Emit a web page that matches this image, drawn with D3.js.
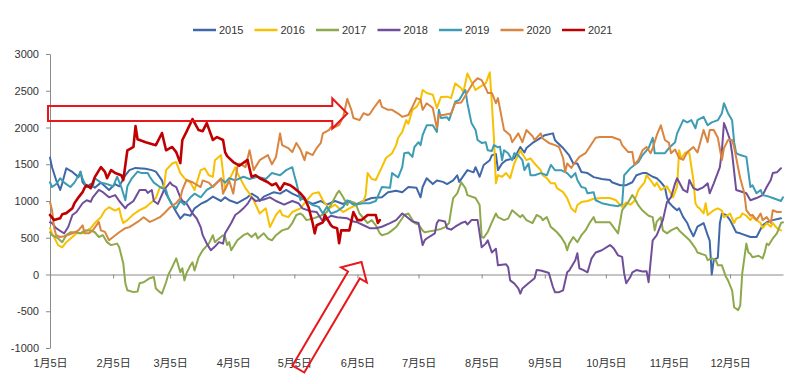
<!DOCTYPE html>
<html><head><meta charset="utf-8">
<script src="https://cdn.jsdelivr.net/npm/d3@7"></script>
<style>
body{margin:0;background:#fff}
svg{display:block}
text{font-family:"Liberation Sans","Noto Sans CJK SC",Arial,sans-serif;}
</style>
</head><body><svg id="c" width="793" height="384"></svg>
<script>
const seriesNames = ["2015","2016","2017","2018","2019","2020","2021"];
const seriesColors = ["#4068a8","#f7c000","#8ea94c","#6f4f9a","#3d9cb4","#d98540","#c00000"];
const yTicks = [-1000,-500,0,500,1000,1500,2000,2500,3000];
const xTickDates = ["01-05","02-05","03-05","04-05","05-05","06-05","07-05","08-05","09-05","10-05","11-05","12-05"];
const xTickLabels = ["1月5日","2月5日","3月5日","4月5日","5月5日","6月5日","7月5日","8月5日","9月5日","10月5日","11月5日","12月5日"];

const s2015 = [["01-05",1590],["01-06",1460],["01-08",1285],["01-10",1150],["01-11",1240],["01-13",1445],["01-16",1395],["01-19",1325],["01-20",1400],["01-21",1255],["01-23",1190],["01-25",1230],["01-27",1180],["01-30",1250],["02-01",1200],["02-03",1150],["02-06",1230],["02-08",1200],["02-11",1350],["02-13",1420],["02-16",1450],["02-21",1440],["02-24",1420],["02-26",1400],["03-01",1280],["03-03",1100],["03-06",950],["03-08",850],["03-10",760],["03-12",820],["03-15",800],["03-17",900],["03-20",960],["03-23",1000],["03-26",1060],["03-30",1000],["04-01",1050],["04-03",1010],["04-07",970],["04-12",1050],["04-14",1100],["04-17",1050],["04-18",1000],["04-20",1060],["04-25",1120],["04-28",1100],["05-01",1150],["05-04",1100],["05-08",1050],["05-11",1000],["05-14",960],["05-18",1000],["05-21",950],["05-25",1000],["05-29",960],["06-01",1000],["06-04",950],["06-08",1000],["06-12",1040],["06-17",1050],["06-20",1120],["06-24",1140],["06-27",1120],["06-30",1190],["07-04",1180],["07-06",1050],["07-07",1190],["07-09",1310],["07-12",1230],["07-14",1280],["07-17",1260],["07-19",1230],["07-22",1280],["07-24",1350],["07-25",1260],["07-29",1420],["08-01",1390],["08-02",1460],["08-04",1330],["08-06",1490],["08-09",1555],["08-10",1620],["08-12",1640],["08-13",1420],["08-15",1510],["08-17",1555],["08-21",1580],["08-24",1735],["08-26",1660],["08-27",1720],["08-30",1790],["09-03",1860],["09-05",1895],["09-09",1920],["09-10",1830],["09-11",1800],["09-14",1720],["09-17",1620],["09-19",1510],["09-21",1510],["09-23",1395],["09-26",1380],["09-29",1325],["10-03",1300],["10-07",1285],["10-08",1255],["10-12",1215],["10-15",1215],["10-18",1255],["10-20",1350],["10-23",1380],["10-25",1380],["10-28",1330],["10-30",1310],["11-01",1255],["11-03",1190],["11-04",1050],["11-05",980],["11-07",920],["11-09",875],["11-10",900],["11-12",780],["11-14",700],["11-15",630],["11-17",520],["11-19",650],["11-22",700],["11-24",535],["11-25",460],["11-26",0],["11-27",200],["11-29",230],["11-30",700],["12-01",830],["12-03",810],["12-05",740],["12-08",575],["12-10",560],["12-15",510],["12-18",510],["12-21",670],["12-23",710],["12-26",740],["12-30",765]];

const s2016 = [["01-05",630],["01-06",560],["01-09",400],["01-11",370],["01-13",440],["01-16",510],["01-18",560],["01-21",560],["01-25",630],["01-27",700],["01-30",780],["02-01",875],["02-03",915],["02-06",870],["02-08",900],["02-09",780],["02-10",700],["02-12",740],["02-15",820],["02-18",875],["02-21",915],["02-24",985],["02-26",1040],["02-28",1190],["03-02",1190],["03-03",1420],["03-06",1510],["03-08",1530],["03-10",1380],["03-12",1310],["03-15",1250],["03-17",1150],["03-20",1420],["03-22",1445],["03-24",1350],["03-26",1330],["03-27",1555],["03-30",1625],["03-31",1380],["04-01",1150],["04-03",1285],["04-05",1400],["04-06",1460],["04-07",1380],["04-11",1175],["04-13",1100],["04-15",1010],["04-18",830],["04-21",900],["04-23",645],["04-26",810],["04-28",875],["04-29",810],["05-02",780],["05-04",850],["05-08",900],["05-10",970],["05-14",1100],["05-17",1120],["05-19",1010],["05-22",900],["05-25",950],["05-29",850],["06-01",900],["06-05",950],["06-08",1000],["06-09",1080],["06-10",1380],["06-12",1300],["06-14",1285],["06-17",1460],["06-19",1585],["06-22",1650],["06-24",1760],["06-25",1860],["06-27",1940],["06-29",2100],["06-30",2050],["07-02",2240],["07-04",2280],["07-06",2375],["07-07",2510],["07-09",2470],["07-12",2445],["07-14",2265],["07-16",2415],["07-19",2420],["07-21",2400],["07-23",2600],["07-26",2535],["07-27",2480],["07-29",2735],["07-31",2620],["08-02",2510],["08-04",2550],["08-07",2600],["08-09",2750],["08-10",2330],["08-11",1870],["08-12",1240],["08-13",1350],["08-15",1330],["08-17",1380],["08-19",1310],["08-21",1510],["08-24",1690],["08-25",1640],["08-27",1555],["08-29",1580],["08-31",1510],["09-03",1420],["09-04",1350],["09-06",1310],["09-08",1240],["09-10",1240],["09-11",1175],["09-14",1120],["09-16",1040],["09-18",900],["09-20",850],["09-21",945],["09-23",985],["09-26",1000],["09-29",1030],["10-03",1040],["10-07",1040],["10-10",1010],["10-12",945],["10-13",920],["10-15",980],["10-17",950],["10-19",1000],["10-21",1150],["10-24",1255],["10-25",1350],["10-27",1280],["10-29",1200],["10-30",1250],["11-01",1150],["11-04",1200],["11-05",1150],["11-07",1050],["11-09",1200],["11-10",1690],["11-11",1580],["11-13",1660],["11-15",1650],["11-17",1285],["11-18",970],["11-19",920],["11-20",900],["11-22",830],["11-23",970],["11-24",810],["11-27",875],["11-29",900],["12-01",870],["12-02",780],["12-04",810],["12-05",830],["12-07",700],["12-08",760],["12-10",780],["12-11",830],["12-13",800],["12-15",740],["12-16",780],["12-18",740],["12-20",700],["12-21",630],["12-23",700],["12-25",650],["12-26",700],["12-28",630],["12-30",600]];

const s2017 = [["01-05",575],["01-06",535],["01-09",490],["01-11",440],["01-13",535],["01-15",575],["01-17",575],["01-20",560],["01-22",600],["01-25",600],["01-27",575],["01-29",510],["01-31",535],["02-02",440],["02-04",400],["02-07",420],["02-08",370],["02-10",150],["02-11",-120],["02-12",-215],["02-15",-240],["02-17",-230],["02-18",-120],["02-20",-105],["02-23",-50],["02-25",-35],["02-26",-190],["02-28",-240],["03-01",-260],["03-03",-105],["03-04",-10],["03-06",100],["03-08",220],["03-10",30],["03-11",85],["03-12",-80],["03-13",15],["03-15",125],["03-16",165],["03-17",55],["03-19",235],["03-21",330],["03-24",420],["03-26",535],["03-27",440],["03-28",465],["03-31",535],["04-01",510],["04-02",400],["04-03",440],["04-04",330],["04-07",465],["04-10",535],["04-12",560],["04-14",510],["04-16",560],["04-17",490],["04-20",560],["04-22",490],["04-24",465],["04-26",535],["04-29",600],["05-02",625],["05-04",700],["05-06",810],["05-08",830],["05-09",810],["05-11",740],["05-14",760],["05-18",800],["05-21",850],["05-24",1000],["05-26",1105],["05-27",1140],["05-29",1050],["05-31",945],["06-01",1000],["06-04",970],["06-06",830],["06-10",700],["06-12",740],["06-14",670],["06-16",560],["06-17",535],["06-20",560],["06-22",600],["06-24",645],["06-27",765],["06-28",810],["06-30",830],["07-03",700],["07-05",680],["07-07",600],["07-08",575],["07-11",590],["07-13",600],["07-16",620],["07-18",645],["07-20",700],["07-21",875],["07-22",1040],["07-24",1105],["07-26",1255],["07-28",1175],["07-29",1080],["08-02",1040],["08-04",945],["08-05",510],["08-06",500],["08-08",580],["08-10",710],["08-12",830],["08-13",780],["08-16",740],["08-18",760],["08-20",875],["08-21",850],["08-24",780],["08-25",810],["08-27",740],["08-30",700],["09-01",810],["09-03",780],["09-04",740],["09-06",780],["09-08",645],["09-10",600],["09-11",575],["09-13",510],["09-15",420],["09-16",330],["09-17",420],["09-19",510],["09-21",440],["09-23",535],["09-25",600],["09-27",700],["09-29",780],["09-30",710],["10-03",710],["10-07",710],["10-11",560],["10-13",875],["10-16",985],["10-18",1080],["10-19",1040],["10-21",940],["10-23",870],["10-26",800],["10-28",780],["10-29",600],["10-30",720],["11-01",780],["11-02",600],["11-04",560],["11-06",600],["11-09",640],["11-10",600],["11-15",470],["11-18",355],["11-19",300],["11-23",260],["11-24",195],["11-26",220],["11-28",195],["11-29",125],["12-01",125],["12-03",-35],["12-04",-80],["12-06",-215],["12-07",-445],["12-09",-485],["12-10",-420],["12-11",20],["12-13",420],["12-14",300],["12-15",280],["12-16",235],["12-19",255],["12-21",220],["12-22",300],["12-23",420],["12-24",400],["12-26",490],["12-28",560],["12-30",700],["12-31",710]];

const s2018 = [["01-05",710],["01-06",700],["01-08",630],["01-11",575],["01-12",560],["01-14",650],["01-16",810],["01-18",850],["01-21",970],["01-23",1010],["01-25",990],["01-26",1050],["01-29",1150],["01-31",1120],["02-03",1050],["02-06",1080],["02-08",1000],["02-11",900],["02-12",940],["02-15",1000],["02-18",1150],["02-21",1150],["02-22",1110],["02-24",1150],["02-25",1000],["02-27",960],["03-02",1150],["03-05",1255],["03-06",1220],["03-08",1190],["03-10",1050],["03-11",1000],["03-13",970],["03-16",830],["03-18",765],["03-20",645],["03-21",535],["03-23",420],["03-25",330],["03-27",380],["03-29",440],["03-31",420],["04-01",560],["04-04",700],["04-06",810],["04-08",850],["04-10",900],["04-12",960],["04-14",1050],["04-16",1000],["04-20",1020],["04-23",1050],["04-26",1000],["04-30",950],["05-04",1000],["05-07",970],["05-09",900],["05-13",860],["05-16",850],["05-19",720],["05-23",800],["05-26",780],["05-31",765],["06-03",720],["06-05",710],["06-08",670],["06-11",630],["06-14",630],["06-17",650],["06-21",700],["06-24",740],["06-27",830],["06-29",790],["07-02",720],["07-05",700],["07-07",400],["07-08",465],["07-09",490],["07-13",560],["07-14",700],["07-15",740],["07-18",720],["07-19",630],["07-21",610],["07-23",650],["07-26",700],["07-28",720],["07-29",680],["07-31",740],["08-03",740],["08-04",560],["08-05",370],["08-07",420],["08-08",465],["08-10",300],["08-12",350],["08-13",125],["08-17",140],["08-18",100],["08-19",-80],["08-21",-120],["08-23",-190],["08-24",-260],["08-25",-190],["08-28",-120],["08-31",-50],["09-01",60],["09-03",55],["09-06",30],["09-07",20],["09-09",-170],["09-10",-240],["09-12",-240],["09-14",-215],["09-16",30],["09-17",55],["09-20",195],["09-21",290],["09-22",85],["09-24",60],["09-26",30],["09-28",220],["09-30",300],["10-03",330],["10-07",400],["10-08",380],["10-09",350],["10-11",260],["10-13",240],["10-14",15],["10-15",-120],["10-17",-35],["10-18",30],["10-20",60],["10-23",40],["10-25",45],["10-26",-105],["10-28",465],["10-30",535],["11-02",740],["11-04",985],["11-06",1050],["11-08",1240],["11-09",1310],["11-12",1150],["11-14",1120],["11-15",1285],["11-17",1175],["11-19",1150],["11-22",1190],["11-24",1240],["11-25",1105],["11-27",1240],["11-30",1460],["12-01",1690],["12-02",2060],["12-03",1990],["12-05",1830],["12-06",1650],["12-08",1150],["12-13",1105],["12-15",1010],["12-18",1040],["12-21",1080],["12-23",1190],["12-25",1285],["12-26",1380],["12-28",1390],["12-30",1445]];

const s2019 = [["01-05",1255],["01-06",1190],["01-08",1230],["01-10",1310],["01-12",1250],["01-15",1190],["01-17",1250],["01-20",1395],["01-21",1300],["01-23",1190],["01-26",1190],["01-27",1310],["01-30",1250],["02-02",1230],["02-05",1200],["02-07",1330],["02-09",1190],["02-11",1010],["02-12",1200],["02-14",1300],["02-17",1400],["02-19",1380],["02-22",1380],["02-23",1330],["02-25",1250],["02-28",1190],["03-03",1150],["03-04",1050],["03-06",945],["03-08",900],["03-10",1000],["03-12",950],["03-15",1050],["03-17",1100],["03-20",1050],["03-23",1150],["03-26",1200],["03-30",1300],["04-01",1250],["04-03",1310],["04-06",1280],["04-10",1330],["04-13",1300],["04-17",1330],["04-21",1300],["04-24",1380],["04-28",1350],["05-01",1420],["05-04",1460],["05-05",1350],["05-06",1250],["05-08",1010],["05-09",1050],["05-11",1000],["05-14",945],["05-17",920],["05-19",830],["05-21",920],["05-23",830],["05-26",860],["05-29",920],["05-31",1010],["06-03",950],["06-08",970],["06-11",970],["06-14",1000],["06-17",1190],["06-21",1180],["06-22",1380],["06-25",1320],["06-27",1460],["06-28",1650],["06-30",1660],["07-02",1600],["07-03",1735],["07-05",1800],["07-06",1760],["07-07",1895],["07-09",2030],["07-12",2030],["07-14",1940],["07-15",2240],["07-16",2130],["07-19",2140],["07-20",2100],["07-23",2350],["07-25",2375],["07-27",2470],["07-28",2510],["07-29",2330],["07-31",2060],["08-02",1965],["08-03",1830],["08-05",1790],["08-07",1800],["08-08",1690],["08-10",1680],["08-11",1760],["08-13",1730],["08-14",1740],["08-15",1555],["08-16",1690],["08-18",1650],["08-20",1555],["08-21",1650],["08-23",1620],["08-25",1555],["08-26",1420],["08-28",1510],["08-29",1350],["08-31",1350],["09-03",1380],["09-06",1350],["09-08",1490],["09-10",1420],["09-13",1420],["09-16",1380],["09-18",1320],["09-20",1380],["09-21",1285],["09-23",1190],["09-25",1175],["09-26",1105],["09-29",1120],["09-30",1010],["10-03",970],["10-07",945],["10-11",930],["10-13",960],["10-14",1350],["10-17",1445],["10-21",1530],["10-23",1625],["10-26",1720],["10-28",1860],["10-29",1650],["11-01",1650],["11-03",1650],["11-05",1720],["11-08",1800],["11-09",1920],["11-12",2100],["11-14",2070],["11-16",2100],["11-18",1990],["11-19",2100],["11-22",2145],["11-24",2030],["11-26",2070],["11-29",2100],["12-01",2195],["12-02",2330],["12-04",2195],["12-06",2100],["12-07",1800],["12-08",1650],["12-10",1625],["12-13",1600],["12-15",1190],["12-16",1215],["12-18",1105],["12-20",1150],["12-21",1080],["12-24",1060],["12-26",1040],["12-30",1000],["12-31",1050]];

const s2020 = [["01-05",985],["01-06",875],["01-07",640],["01-08",535],["01-10",510],["01-12",520],["01-16",560],["01-19",600],["01-21",670],["01-22",560],["01-24",560],["01-26",600],["01-29",715],["01-30",600],["02-01",580],["02-03",465],["02-05",510],["02-08",575],["02-11",630],["02-13",645],["02-17",715],["02-20",780],["02-23",715],["02-25",740],["02-28",780],["03-02",830],["03-05",915],["03-08",970],["03-10",1040],["03-11",1150],["03-13",1285],["03-16",1255],["03-20",1190],["03-21",1280],["03-24",1250],["03-26",1190],["03-30",1310],["03-31",1100],["04-03",1280],["04-05",1100],["04-07",1460],["04-08",1510],["04-11",1460],["04-13",1690],["04-15",1420],["04-18",1555],["04-22",1625],["04-24",1500],["04-26",1600],["04-28",1920],["04-29",1760],["05-02",1720],["05-04",1665],["05-06",1790],["05-08",1700],["05-10",1555],["05-11",1665],["05-14",1625],["05-16",1720],["05-18",1790],["05-19",1920],["05-22",1965],["05-23",2005],["05-24",1990],["05-27",2035],["05-29",2145],["05-30",2265],["05-31",2390],["06-02",2240],["06-03",2130],["06-06",2100],["06-08",2195],["06-10",2170],["06-11",2180],["06-13",2265],["06-16",2375],["06-17",2280],["06-20",2240],["06-22",2240],["06-25",2190],["06-27",2145],["06-30",2170],["07-02",2280],["07-04",2400],["07-06",2380],["07-07",2240],["07-09",2330],["07-12",2265],["07-14",1990],["07-15",2170],["07-17",2170],["07-21",2190],["07-23",2330],["07-26",2340],["07-29",2480],["08-01",2615],["08-03",2670],["08-05",2645],["08-07",2535],["08-08",2470],["08-10",2470],["08-12",2330],["08-13",2400],["08-16",1965],["08-19",1895],["08-20",1800],["08-23",1920],["08-25",1800],["08-27",1965],["08-30",1880],["08-31",1830],["09-03",1920],["09-04",1850],["09-07",1790],["09-10",1760],["09-12",1735],["09-14",1585],["09-15",1395],["09-16",1510],["09-18",1450],["09-20",1530],["09-22",1600],["09-25",1650],["09-27",1735],["09-30",1860],["10-02",1870],["10-08",1870],["10-12",1830],["10-13",1760],["10-16",1665],["10-18",1665],["10-19",1490],["10-21",1560],["10-23",1690],["10-25",1735],["10-27",1650],["10-28",1720],["10-30",1895],["11-01",2030],["11-03",1830],["11-05",1790],["11-06",1650],["11-08",1700],["11-10",1585],["11-12",1560],["11-14",1665],["11-17",1735],["11-19",1660],["11-22",1965],["11-24",1800],["11-25",1965],["11-27",1965],["11-29",1860],["12-01",1555],["12-02",1720],["12-04",1830],["12-06",1830],["12-07",1735],["12-09",1445],["12-10",1310],["12-12",1105],["12-13",875],["12-15",800],["12-16",810],["12-18",740],["12-20",830],["12-21",740],["12-23",780],["12-25",700],["12-26",875],["12-28",850],["12-30",850]];

const s2021 = [["01-05",810],["01-07",740],["01-10",765],["01-11",820],["01-13",835],["01-16",900],["01-17",970],["01-19",1050],["01-21",1120],["01-22",1180],["01-23",1215],["01-25",1175],["01-27",1325],["01-30",1460],["02-01",1395],["02-02",1310],["02-04",1420],["02-06",1380],["02-09",1350],["02-10",1285],["02-12",1690],["02-14",1720],["02-15",1735],["02-16",2020],["02-17",1840],["02-21",1800],["02-26",1760],["03-01",1925],["03-03",1690],["03-06",1735],["03-08",1665],["03-10",1515],["03-11",1830],["03-13",1940],["03-16",2115],["03-19",1965],["03-21",1950],["03-23",2060],["03-26",1830],["03-28",1870],["03-31",1830],["04-01",1665],["04-02",1610],["04-05",1530],["04-08",1480],["04-12",1560],["04-13",1440],["04-14",1330],["04-16",1350],["04-18",1310],["04-22",1255],["04-24",1215],["04-26",1240],["04-28",1150],["04-30",1240],["05-03",1215],["05-05",1175],["05-08",1105],["05-10",1040],["05-12",915],["05-14",700],["05-15",560],["05-16",670],["05-19",710],["05-20",810],["05-23",670],["05-24",645],["05-26",630],["05-27",425],["05-28",600],["06-01",600],["06-03",850],["06-05",740],["06-07",740],["06-10",810],["06-14",810],["06-15",700],["06-16",740]];

const seriesData = [s2015,s2016,s2017,s2018,s2019,s2020,s2021];

// annotation arrows anchored in data space: [date, value]
const arrowFrom = [["01-04",2190],["05-07",-1286]];
const arrowTo   = [["05-31",2190],["06-07",170]];

const parse = d3.timeParse("%m-%d");
const svg = d3.select("#c");
const x = d3.scaleTime().domain([parse("01-05"), parse("12-31")]).range([50, 783]);
const y = d3.scaleLinear().domain([-1000, 3000]).range([348, 54]);
const axisColor = "#8a8a8a", textColor = "#333";

// Y axis
const gy = svg.append("g").attr("transform","translate(50,0)")
  .call(d3.axisLeft(y).tickValues(yTicks).tickFormat(d=>String(d)).tickSize(4).tickSizeOuter(0).tickPadding(7));
// X axis at zero line
const gx = svg.append("g").attr("transform",`translate(0,${y(0)})`)
  .call(d3.axisBottom(x).tickValues(xTickDates.map(parse)).tickFormat((d,i)=>xTickLabels[i]).tickSize(4).tickSizeOuter(0));
gx.selectAll("text").attr("y", y(-1000)-y(0)+11).attr("dy","0.71em");
[gy,gx].forEach(g=>{
  g.select(".domain").attr("stroke",axisColor).attr("stroke-width",1);
  g.selectAll(".tick line").attr("stroke",axisColor);
  g.selectAll("text").attr("fill",textColor).style("font-size","11px");
});

// Lines
const lineWidths = [2,2,2,2,2,2,2.6];
const line = d3.line().x(d=>x(parse(d[0]))).y(d=>y(d[1]));
seriesData.forEach((data,i)=>{
  svg.append("path").datum(data).attr("d",line)
    .attr("fill","none").attr("stroke",seriesColors[i])
    .attr("stroke-width",lineWidths[i]).attr("stroke-linejoin","round").attr("stroke-linecap","round");
});

// Legend
const lg = svg.append("g");
seriesNames.forEach((n,i)=>{
  const g = lg.append("g").attr("transform",`translate(${193+i*61.5},30)`);
  g.append("line").attr("x1",0).attr("x2",23).attr("y1",0).attr("y2",0)
    .attr("stroke",seriesColors[i]).attr("stroke-width",2.5);
  g.append("text").attr("x",26).attr("y",0).attr("dy","0.35em")
    .attr("fill",textColor).style("font-size","11px").text(n);
});

// Arrows (outlined block arrows)
function arrowPath(x0,y0,x1,y1,w,hw,hl){
  const dx=x1-x0, dy=y1-y0, L=Math.hypot(dx,dy);
  const ux=dx/L, uy=dy/L, nx=-uy, ny=ux;
  const P=(a,b)=>[x0+a*ux+b*nx, y0+a*uy+b*ny];
  const pts=[P(0,-w),P(L-hl,-w),P(L-hl,-hw),P(L,0),P(L-hl,hw),P(L-hl,w),P(0,w)];
  return "M"+pts.map(p=>p[0].toFixed(1)+","+p[1].toFixed(1)).join("L")+"Z";
}
const arrowW = [7.5, 6.8];
arrowFrom.forEach((f,i)=>{
  const t = arrowTo[i];
  svg.append("path")
    .attr("d", arrowPath(x(parse(f[0])), y(f[1]), x(parse(t[0])), y(t[1]), arrowW[i], 15, 15))
    .attr("fill","none").attr("stroke","#e8171b").attr("stroke-width",2).attr("stroke-linejoin","miter");
});
</script>
</body></html>
